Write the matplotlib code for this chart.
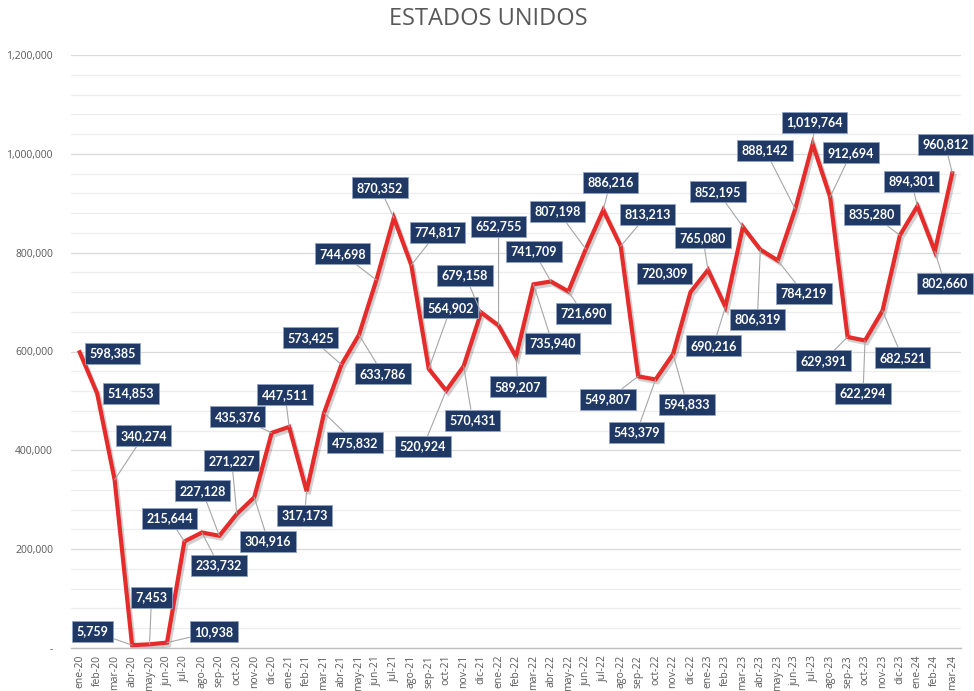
import matplotlib
matplotlib.use("Agg")
import matplotlib.pyplot as plt
import matplotlib.patheffects as pe
from matplotlib.ticker import MultipleLocator, FuncFormatter
import numpy as np

# ---------------- data ----------------
months = ["ene-20", "feb-20", "mar-20", "abr-20", "may-20", "jun-20", "jul-20", "ago-20", "sep-20", "oct-20", "nov-20", "dic-20",
          "ene-21", "feb-21", "mar-21", "abr-21", "may-21", "jun-21", "jul-21", "ago-21", "sep-21", "oct-21", "nov-21", "dic-21",
          "ene-22", "feb-22", "mar-22", "abr-22", "may-22", "jun-22", "jul-22", "ago-22", "sep-22", "oct-22", "nov-22", "dic-22",
          "ene-23", "feb-23", "mar-23", "abr-23", "may-23", "jun-23", "jul-23", "ago-23", "sep-23", "oct-23", "nov-23", "dic-23",
          "ene-24", "feb-24", "mar-24"]

values = [598385, 514853, 340274, 5759, 7453, 10938, 215644, 233732, 227128, 271227, 304916, 435376,
          447511, 317173, 475832, 573425, 633786, 744698, 870352, 774817, 564902, 520924, 570431, 679158,
          652755, 589207, 735940, 741709, 721690, 807198, 886216, 813213, 549807, 543379, 594833, 720309,
          765080, 690216, 852195, 806319, 784219, 888142, 1019764, 912694, 629391, 622294, 682521, 835280,
          894301, 802660, 960812]

y_ticks = [0, 200000, 400000, 600000, 800000, 1000000, 1200000]
title = "ESTADOS UNIDOS"

# label offsets (pixels, x right / y up) from each point -- layout only
label_dx = [33, 34, 29, -40, 2, 47, -15, 17, -17, -5, 14, -34,
            -4, -2, 31, -31, 24, -34, -14, 26, 22, -23, 9, -16,
            0, 2, 19, -17, 15, -28, 7, 27, -30, -19, 14, -26,
            -5, -12, -25, -3, 26, -30, 2, 21, -24, -2, 20, -28,
            -6, 10, -7]
label_dy = [-1, 0, 44, 14, 47, 11, 23, -33, 45, 53, -44, 16,
            32, -24, -30, 27, -39, 26, 30, 33, 61, -56, -54, 37,
            99, -30, -59, 30, -22, 38, 28, 32, -23, -53, -50, 19,
            32, -39, 35, -70, -33, 59, 22, 44, -24, -53, -47, 21,
            25, -32, 29]

# ---------------- figure ----------------
W, H = 974, 691
fig = plt.figure(figsize=(W / 100, H / 100), dpi=100)
fig.patch.set_facecolor("white")
ax = fig.add_axes([71 / W, (H - 648) / H, (961 - 71) / W, (648 - 55) / H])

x = np.arange(len(months))
ax.plot(x, values, color="#E62B2B", lw=3.0, solid_joinstyle="miter", zorder=3,
        path_effects=[pe.SimpleLineShadow(offset=(1.5, -2), shadow_color="#000000", alpha=0.18),
                      pe.Normal()])

ax.set_xlim(-0.5, len(months) - 0.5)
ax.set_ylim(0, 1200000)
ax.set_yticks(y_ticks)
ax.yaxis.set_minor_locator(MultipleLocator(40000))
ax.yaxis.set_major_formatter(FuncFormatter(lambda v, p: "-" if v == 0 else f"{int(v):,}"))
ax.grid(axis="y", which="major", color="#D9D9D9", lw=0.9, zorder=0)
ax.grid(axis="y", which="minor", color="#EDEDED", lw=0.9, zorder=0)
ax.set_axisbelow(True)

ax.set_xticks(x)
ax.set_xticklabels(months, rotation=90, fontsize=7.5, color="#595959", family="Open Sans")
for lbl in ax.get_yticklabels():
    lbl.set_family("Open Sans")
ax.tick_params(axis="y", which="both", length=0, pad=13, labelsize=7.5, labelcolor="#595959")
ax.tick_params(axis="x", which="both", length=0, pad=5)
for s in ["top", "right", "left"]:
    ax.spines[s].set_visible(False)
ax.spines["bottom"].set_color("#BFBFBF")
ax.spines["bottom"].set_linewidth(1.0)

# data labels
hw, hh = 27, 10
for i, v in enumerate(values):
    dx, dy = label_dx[i], label_dy[i]
    gx = max(0, abs(dx) - hw)
    gy = max(0, abs(dy) - hh)
    arrow = None
    if np.hypot(gx, gy) > 9:
        arrow = dict(arrowstyle="-", color="#A6A6A6", lw=0.8, shrinkA=0, shrinkB=0)
    ax.annotate(f"{v:,}", xy=(i, v), xytext=(dx, dy), textcoords="offset pixels",
                ha="center", va="center", fontsize=9, fontweight="bold", color="white",
                family="Lato",
                bbox=dict(boxstyle="square,pad=0.36", fc="#1F3864", ec="#8FA3C4", lw=0.6),
                arrowprops=arrow, zorder=5, annotation_clip=False)

fig.text(488 / W, 1 - 19 / H, title, ha="center", va="center", fontsize=17,
         color="#595959", family="Open Sans")

fig.savefig("out.png", dpi=100, facecolor="white")
